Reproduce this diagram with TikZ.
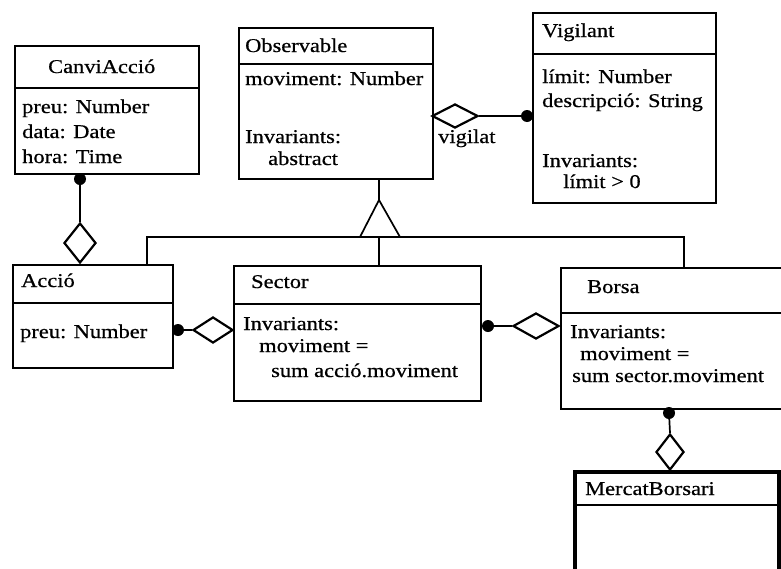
\documentclass[tikz,border=0pt]{standalone}
\usepackage{fontspec}
\setmainfont[FakeStretch=1.15,FakeBold=0.6]{Liberation Serif}
\usetikzlibrary{shapes.geometric}
\begin{document}
\begin{tikzpicture}[x=1pt,y=-1pt,
  box/.style={draw, line width=1.6pt, rectangle, inner sep=0pt, anchor=north west},
  txt/.style={anchor=base west, inner sep=0pt, font=\fontsize{19.5}{25}\selectfont},
  dotend/.style={circle, fill, inner sep=0pt, minimum size=12pt},
  agg/.style={diamond, draw, line width=2.2pt, inner sep=0pt, fill=white},
  link/.style={line width=1.7pt}]

\useasboundingbox (0,0) rectangle (781,568);
\clip (0,0) rectangle (781,568);

% ---------- class boxes: header + body ----------
\node[box, minimum width=184pt, minimum height=42pt] (can-h) at (14,45) {};
\node[box, minimum width=184pt, minimum height=86pt] (can-b) at (14,87) {};

\node[box, minimum width=194pt, minimum height=36pt] (obs-h) at (238,27) {};
\node[box, minimum width=194pt, minimum height=115pt] (obs-b) at (238,63) {};

\node[box, minimum width=183pt, minimum height=41pt] (vig-h) at (532,12) {};
\node[box, minimum width=183pt, minimum height=149pt] (vig-b) at (532,53) {};

\node[box, minimum width=160pt, minimum height=38pt] (acc-h) at (12,264) {};
\node[box, minimum width=160pt, minimum height=65pt] (acc-b) at (12,302) {};

\node[box, minimum width=247pt, minimum height=38pt] (sec-h) at (233,265) {};
\node[box, minimum width=247pt, minimum height=97pt] (sec-b) at (233,303) {};

\node[box, minimum width=240pt, minimum height=45pt] (bor-h) at (560,267) {};
\node[box, minimum width=240pt, minimum height=96pt] (bor-b) at (560,312) {};

\node[box, line width=4pt, minimum width=204pt, minimum height=140pt] (mer) at (573,470) {};
\draw[line width=2pt] ([yshift=-35pt]mer.north west) -- ([yshift=-35pt]mer.north east);

% ---------- texts ----------
\node[txt] (t-can) at (48,73) {CanviAcció};
\node[txt] (t-can1) at (22,113) {preu: Number};
\node[txt] (t-can2) at (22,138) {data: Date};
\node[txt] (t-can3) at (22,163) {hora: Time};

\node[txt] (t-obs) at (245,52) {Observable};
\node[txt] (t-obs1) at (245,85) {moviment: Number};
\node[txt] (t-obs2) at (245,143) {Invariants:};
\node[txt] (t-obs3) at (268,165) {abstract};

\node[txt] (t-vig) at (542,37) {Vigilant};
\node[txt] (t-vig1) at (542,83) {límit: Number};
\node[txt] (t-vig2) at (542,107) {descripció: String};
\node[txt] (t-vig3) at (542,167) {Invariants:};
\node[txt] (t-vig4) at (563,188) {límit > 0};

\node[txt] (t-acc) at (21,287) {Acció};
\node[txt] (t-acc1) at (20,338) {preu: Number};

\node[txt] (t-sec) at (251,288) {Sector};
\node[txt] (t-sec1) at (243,330) {Invariants:};
\node[txt] (t-sec2) at (259,352) {moviment =};
\node[txt] (t-sec3) at (271,377) {sum acció.moviment};

\node[txt] (t-bor) at (587,293) {Borsa};
\node[txt] (t-bor1) at (570,338) {Invariants:};
\node[txt] (t-bor2) at (580,360) {moviment =};
\node[txt] (t-bor3) at (572,382) {sum sector.moviment};

\node[txt] (t-mer) at (585,495) {MercatBorsari};

% ---------- generalization ----------
\coordinate (gapex) at (379,200);
\coordinate (gl) at (360,237);
\coordinate (gr) at (400,237);
\coordinate (bus-w) at (147,237);
\coordinate (bus-e) at (684,237);
\draw[link] (gapex |- obs-b.south) -- (gapex);
\draw[link, line join=miter] (gapex) -- (gl) -- (gr) -- cycle;
\draw[link] (acc-h.north -| bus-w) -- (bus-w) -- (bus-e) -- (bor-h.north -| bus-e);
\draw[link] (sec-h.north -| gapex) -- (gapex |- gl);

% ---------- aggregations ----------
\node[dotend] (d1) at (80,179) {};
\node[agg, minimum width=32pt, minimum height=40pt] (a1) at (80,243) {};
\draw[link] (d1) -- (a1.north);

\node[dotend] (d2) at (178,330) {};
\node[agg, minimum width=40pt, minimum height=26pt] (a2) at (213,330) {};
\draw[link] (d2) -- (a2.west);

\node[dotend] (d3) at (488,326) {};
\node[agg, minimum width=46pt, minimum height=26pt] (a3) at (536,326) {};
\draw[link] (d3) -- (a3.west);

\node[agg, minimum width=46pt, minimum height=24pt] (a4) at (455,116) {};
\node[dotend] (d4) at (527,116) {};
\draw[link] (a4.east) -- (d4);
\node[txt] (t-vigilat) at (438,143) {vigilat};

\node[dotend] (d5) at (669,413) {};
\node[agg, minimum width=28pt, minimum height=36pt] (a5) at (670,452) {};
\draw[link] (d5) -- (a5.north);

\end{tikzpicture}
\end{document}
